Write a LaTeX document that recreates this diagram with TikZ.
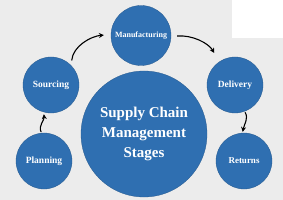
\documentclass[tikz,border=0pt]{standalone}
\usepackage{fontspec}
\setmainfont{Liberation Serif}
\usetikzlibrary{arrows.meta}
\definecolor{bg}{RGB}{236,236,236}
\definecolor{stageblue}{RGB}{47,111,177}
\begin{document}
\begin{tikzpicture}[x=1pt,y=-1pt,
  stage/.style={circle,fill=stageblue,draw=stageblue!80!black,line width=0.3pt,inner sep=0pt,
    text=white,font=\bfseries,align=center},
  flow/.style={-{Stealth[length=5pt,width=5pt]},line width=1.1pt,black}]
\fill[bg] (0,0) rectangle (283,200);
\fill[white] (232,0) rectangle (283,38);
\useasboundingbox (0,0) rectangle (283,200);
\node[stage,minimum size=126pt,font=\bfseries\fontsize{15}{20}\selectfont] (core) at (144,134) {Supply Chain\\Management\\Stages};
\node[stage,minimum size=60pt,font=\bfseries\fontsize{8}{10}\selectfont] (man) at (141,35.5) {Manufacturing};
\node[stage,minimum size=56pt,font=\bfseries\fontsize{9.5}{11}\selectfont] (src) at (51,85) {Sourcing};
\node[stage,minimum size=56pt,font=\bfseries\fontsize{9.5}{11}\selectfont] (pln) at (44,161) {Planning};
\node[stage,minimum size=56pt,font=\bfseries\fontsize{9.5}{11}\selectfont] (del) at (235,85) {Delivery};
\node[stage,minimum size=56pt,font=\bfseries\fontsize{9}{11}\selectfont] (ret) at (244,161) {Returns};
\draw[flow,shorten <=5pt,shorten >=7pt] (src.44) to[out=85,in=185] (man.178);
\draw[flow,shorten <=6pt,shorten >=10pt] (man.-2) to[out=5,in=120] (del.124);
\draw[flow,shorten <=1pt,shorten >=1pt] (del.-70) to[out=-60,in=80] (ret.93);
\draw[flow,shorten <=1pt,shorten >=2pt] (pln.95) to[out=115,in=-85] (src.-105);
\end{tikzpicture}
\end{document}
